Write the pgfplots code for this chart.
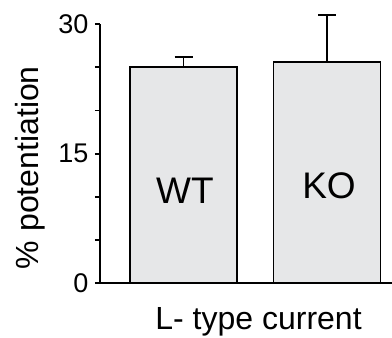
\documentclass[border=0pt]{standalone}
\usepackage{pgfplots}
\pgfplotsset{compat=1.18}
\usepackage{fontspec}
\setmainfont{Liberation Sans}
\definecolor{barfill}{RGB}{230,231,232}
\begin{document}
\begin{tikzpicture}
\useasboundingbox (-100bp,-54.7bp) rectangle (292bp,283.3bp);
\begin{axis}[
  at={(0,0)}, anchor=south west,
  scale only axis, width=292bp, height=259.3bp,
  xmin=0, xmax=292, ymin=0, ymax=30,
  axis x line*=bottom, axis y line*=left,
  axis line style={line width=1.8bp, -},
  xtick=\empty,
  ytick={0,15,30}, minor ytick={5,10,20,25},
  tick align=outside, major tick length=5bp, minor tick length=5bp,
  tick style={line width=1.8bp, black},
  ticklabel style={font=\fontsize{27bp}{30bp}\selectfont},
  yticklabel style={xshift=-3bp},
  /pgf/number format/assume math mode=true,
  ylabel={\% potentiation}, xlabel={L- type current},
  label style={font=\fontsize{32bp}{36bp}\selectfont},
  ylabel style={at={(axis description cs:-0.209,0.446)}, anchor=base},
  xlabel style={at={(axis description cs:0.543,-0.180)}, anchor=base},
  clip=false,
]
\addplot[ybar, bar width=107, fill=barfill, draw=black, line width=1.8bp,
  error bars/.cd, y dir=plus, y explicit,
  error mark options={rotate=90, line width=1.8bp, mark size=9bp, black},
  error bar style={line width=1.8bp, black}]
  coordinates {(83.5,25.07) +- (0,1.13) (227,25.6) +- (0,5.45)};
\node[anchor=base, font=\fontsize{37bp}{40bp}\selectfont] at (axis cs:85,9.18) {WT};
\node[anchor=base, font=\fontsize{37bp}{40bp}\selectfont] at (axis cs:229,9.76) {KO};
\end{axis}
\end{tikzpicture}
\end{document}
